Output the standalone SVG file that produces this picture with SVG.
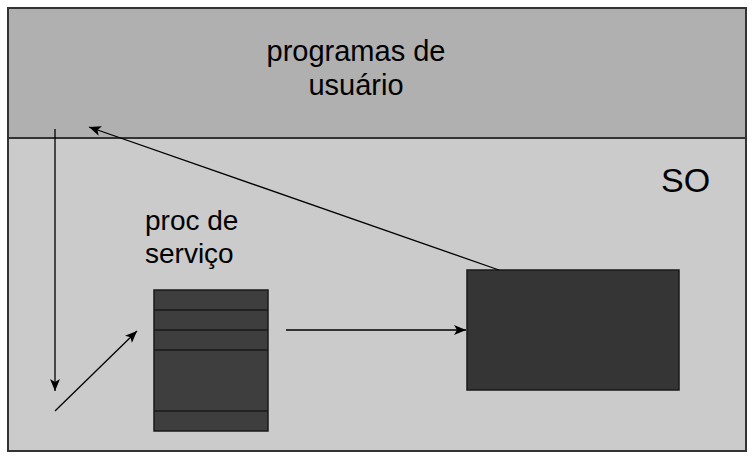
<svg xmlns="http://www.w3.org/2000/svg" width="754" height="459" viewBox="0 0 754 459">
<style>
.lbl{font-family:"Liberation Sans",Arial,sans-serif;fill:#000}
.conn{stroke:#000;stroke-width:1.3;fill:none;marker-end:url(#ah)}
.cell{fill:#3e3e3e;stroke:#1a1a1a;stroke-width:1.5}
</style>
<defs>
<marker id="ah" viewBox="0 0 12 10" refX="12" refY="5" markerWidth="12" markerHeight="10" markerUnits="userSpaceOnUse" orient="auto">
<path d="M0,0 L12,5 L0,10 L3,5 Z" fill="#000"/>
</marker>
</defs>
<rect x="0" y="0" width="754" height="459" fill="#ffffff"/>
<g id="so">
<rect x="8" y="138" width="738" height="313" fill="#cbcbcb" stroke="#333" stroke-width="2"/>
<text class="lbl" x="661" y="192" font-size="34">SO</text>
</g>
<g id="programas">
<rect x="8" y="8" width="738" height="130" fill="#b0b0b0" stroke="#333" stroke-width="2"/>
<text class="lbl" x="356" y="61" font-size="29" text-anchor="middle">programas de</text>
<text class="lbl" x="356" y="95" font-size="29" text-anchor="middle">usuário</text>
</g>
<g id="proc">
<text class="lbl" x="145" y="230" font-size="28">proc de</text>
<text class="lbl" x="145" y="263" font-size="28">serviço</text>
<rect class="cell" x="154" y="290" width="114" height="141"/>
<line x1="154" y1="310" x2="268" y2="310" stroke="#1a1a1a" stroke-width="1.5"/>
<line x1="154" y1="330" x2="268" y2="330" stroke="#1a1a1a" stroke-width="1.5"/>
<line x1="154" y1="350" x2="268" y2="350" stroke="#1a1a1a" stroke-width="1.5"/>
<line x1="154" y1="411" x2="268" y2="411" stroke="#1a1a1a" stroke-width="1.5"/>
</g>
<g id="box">
<rect x="467" y="270" width="212" height="120" fill="#353535" stroke="#1a1a1a" stroke-width="1.5"/>
</g>
<g id="connectors">
<line class="conn" x1="55" y1="129" x2="55" y2="391"/>
<line class="conn" x1="55" y1="411" x2="137" y2="331"/>
<line class="conn" x1="286" y1="330" x2="466" y2="330"/>
<line class="conn" x1="499" y1="270" x2="89" y2="127"/>
</g>
</svg>
